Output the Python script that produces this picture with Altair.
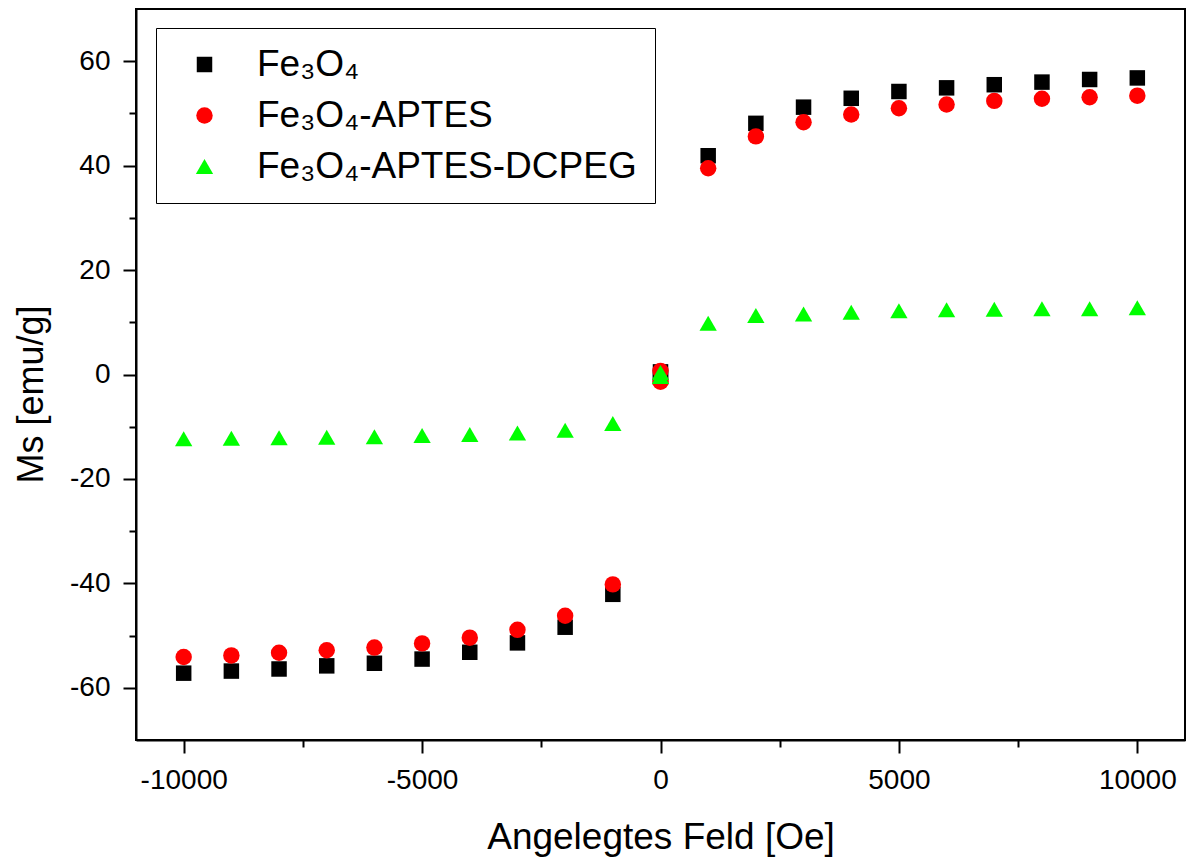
import altair as alt
import pandas as pd

# Applied field values (Oe); two readings at 0
fields = [-10000, -9000, -8000, -7000, -6000, -5000, -4000, -3000, -2000, -1000,
          0, 0,
          1000, 2000, 3000, 4000, 5000, 6000, 7000, 8000, 9000, 10000]

fe3o4 = [-57.2, -56.8, -56.4, -55.8, -55.3, -54.5, -53.2, -51.4, -48.4, -42.1,
         0.5, -0.5,
         41.9, 48.1, 51.2, 52.9, 54.2, 54.9, 55.5, 56.0, 56.5, 56.8]

fe3o4_aptes = [-54.1, -53.8, -53.3, -52.8, -52.3, -51.5, -50.4, -48.9, -46.2, -40.2,
               0.7, -1.4,
               39.5, 45.6, 48.3, 49.8, 51.0, 51.7, 52.4, 52.8, 53.1, 53.4]

fe3o4_aptes_dcpeg = [-12.3, -12.2, -12.1, -12.0, -11.9, -11.7, -11.5, -11.2, -10.7, -9.4,
                     0.4, -0.4,
                     9.8, 11.3, 11.6, 11.9, 12.2, 12.4, 12.5, 12.6, 12.6, 12.8]

series_names = ["Fe\u2083O\u2084", "Fe\u2083O\u2084-APTES", "Fe\u2083O\u2084-APTES-DCPEG"]
series_colors = ["#000000", "#ff0000", "#00ff00"]
series_shapes = ["square", "circle", "triangle-up"]
series_sizes = [240, 300, 440]

x_tick_values = [-10000, -7500, -5000, -2500, 0, 2500, 5000, 7500, 10000]
y_tick_values = [-60, -50, -40, -30, -20, -10, 0, 10, 20, 30, 40, 50, 60]

rows = []
for name, vals in zip(series_names, [fe3o4, fe3o4_aptes, fe3o4_aptes_dcpeg]):
    for h, m in zip(fields, vals):
        rows.append({"H": h, "M": m, "Sample": name})
df = pd.DataFrame(rows)

FONT = "Liberation Sans, Arial, Helvetica, sans-serif"

legend = alt.Legend(
    title=None,
    orient="none",
    legendX=20,
    legendY=19,
    labelFont=FONT,
    labelFontSize=37,
    labelColor="black",
    labelLimit=0,
    strokeColor="black",
    padding=18,
    rowPadding=13,
    labelOffset=34,
    symbolOffset=12,
    symbolStrokeWidth=0,
    symbolOpacity=1,
)

x_axis = alt.Axis(
    values=x_tick_values,
    labelExpr="datum.value % 5000 === 0 ? toString(datum.value) : ''",
    tickSize={"condition": {"test": "datum.value % 5000 === 0", "value": 13}, "value": 7},
    tickWidth=2,
    tickColor="black",
    domainColor="black",
    domainWidth=2,
    grid=False,
    labelFont=FONT,
    labelFontSize=28,
    labelColor="black",
    labelPadding=13,
    labelFlush=False,
    labelOverlap=False,
    title="Angelegtes Feld [Oe]",
    titleFont=FONT,
    titleFontSize=37,
    titleFontWeight="normal",
    titleColor="black",
    titleBaseline="alphabetic",
    titleY=108,
)

y_axis = alt.Axis(
    values=y_tick_values,
    labelExpr="datum.value % 20 === 0 ? toString(datum.value) : ''",
    tickSize={"condition": {"test": "datum.value % 20 === 0", "value": 13}, "value": 7},
    tickWidth=2,
    tickColor="black",
    domainColor="black",
    domainWidth=2,
    grid=False,
    labelFont=FONT,
    labelFontSize=28,
    labelColor="black",
    labelPadding=13,
    labelFlush=False,
    labelOverlap=False,
    title="Ms [emu/g]",
    titleFont=FONT,
    titleFontSize=36,
    titleFontWeight="normal",
    titleColor="black",
    titleBaseline="alphabetic",
    titleX=-94,
    titleY=385,
)

chart = (
    alt.Chart(df)
    .mark_point(filled=True, opacity=1, strokeWidth=0)
    .encode(
        x=alt.X("H:Q", scale=alt.Scale(domain=[-11000, 11000], nice=False, zero=False), axis=x_axis),
        y=alt.Y("M:Q", scale=alt.Scale(domain=[-70, 70], nice=False, zero=False), axis=y_axis),
        color=alt.Color("Sample:N", scale=alt.Scale(domain=series_names, range=series_colors), legend=legend),
        shape=alt.Shape("Sample:N", scale=alt.Scale(domain=series_names, range=series_shapes), legend=legend),
        size=alt.Size("Sample:N", scale=alt.Scale(domain=series_names, range=series_sizes), legend=legend),
        order=alt.Order("order:Q"),
    )
    .transform_calculate(
        order="indexof(['" + "','".join(series_names) + "'], datum.Sample)"
    )
    .properties(
        width=1049,
        height=731,
        autosize=alt.AutoSizeParams(type="none"),
        padding={"left": 136, "top": 9, "right": 1, "bottom": 123},
        background="white",
    )
    .configure_view(stroke="black", strokeWidth=2)
)

chart.save("out.html", embed_options={"renderer": "svg", "actions": False})
